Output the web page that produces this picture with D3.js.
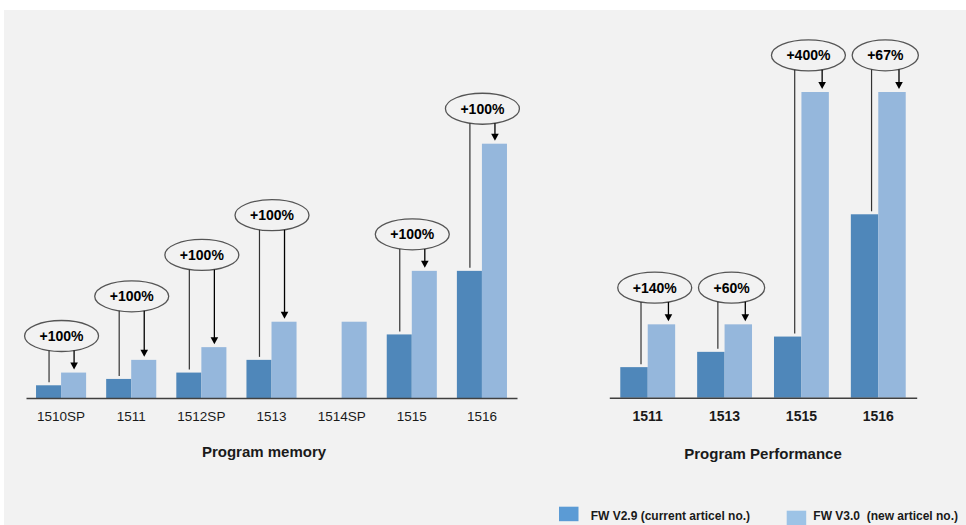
<!DOCTYPE html>
<html>
<head>
<meta charset="utf-8">
<style>
    body { margin: 0; background: #fff; }
    svg { display: block; font-family: "Liberation Sans", Arial, sans-serif; }
</style>
</head>
<body>
<svg id="chart" width="966" height="525"></svg>

<script src="https://d3js.org/d3.v7.min.js"></script>
<script>
    // program memory (left chart)
    const memCategories = ["1510SP", "1511", "1512SP", "1513", "1514SP", "1515", "1516"];
    const memV29 = [16, 24, 32, 48, null, 80, 160];
    const memV30 = [32, 48, 64, 96, 96, 160, 320];
    const memLabels = ["+100%", "+100%", "+100%", "+100%", null, "+100%", "+100%"];
    const memLabelLevel = [78, 128, 180, 230, null, 206, 364];

    // program performance (right chart)
    const perfCategories = ["1511", "1513", "1515", "1516"];
    const perfV29 = [5, 7.5, 10, 30];
    const perfV30 = [12, 12, 50, 50];
    const perfLabels = ["+140%", "+60%", "+400%", "+67%"];
    const perfLabelLevel = [18, 18, 56, 56];

    const seriesNames = ["FW V2.9 (current articel no.)", "FW V3.0\u00a0 (new articel no.)"];

    const darkBlue = "#4f87ba", lightBlue = "#95b7dc";

    const svg = d3.select("#chart");

    // grey panel
    svg.append("rect")
       .attr("x", 4).attr("y", 10)
       .attr("width", 962).attr("height", 515)
       .attr("fill", "#f2f2f2");

    function drawGroup(cfg) {
        const g = svg.append("g");

        const x0 = d3.scaleBand()
                     .domain(cfg.categories)
                     .range(cfg.xRange)
                     .paddingInner(0.286)
                     .paddingOuter(0.143);

        const x1 = d3.scaleBand()
                     .domain(["v29", "v30"])
                     .range([0, x0.bandwidth()]);

        const y = d3.scaleLinear()
                    .domain([0, cfg.max])
                    .range(cfg.yRange);

        const rows = cfg.categories.map((c, i) => ({
            cat: c, v29: cfg.v29[i], v30: cfg.v30[i],
            label: cfg.labels[i], level: cfg.levels[i]
        }));

        // bars
        rows.forEach(d => {
            ["v29", "v30"].forEach(k => {
                if (d[k] == null) return;
                g.append("rect")
                 .attr("x", x0(d.cat) + x1(k))
                 .attr("width", x1.bandwidth())
                 .attr("y", y(d[k]))
                 .attr("height", y(0) - y(d[k]))
                 .attr("fill", k === "v29" ? darkBlue : lightBlue);
            });
        });

        // x axis
        const axis = g.append("g")
                      .attr("transform", `translate(0,${y(0)})`)
                      .call(d3.axisBottom(x0).tickSize(0).tickSizeOuter(0).tickPadding(13));
        axis.select(".domain").attr("stroke", "#404040").attr("stroke-width", 1.5);
        axis.selectAll("text")
            .attr("fill", "#1a1a1a")
            .style("font-family", '"Liberation Sans", Arial, sans-serif')
            .style("font-size", cfg.tickSize + "px")
            .style("font-weight", cfg.tickWeight);

        // title
        g.append("text")
         .attr("x", cfg.titleX).attr("y", cfg.titleY)
         .attr("text-anchor", "middle")
         .attr("fill", "#1a1a1a")
         .style("font-size", "15px").style("font-weight", "bold")
         .text(cfg.title);

        // annotations
        rows.forEach(d => {
            if (!d.label) return;
            const cx = x0(d.cat) + x0.bandwidth() / 2 + cfg.shift;
            const cy = y(d.level);
            const dx = x0(d.cat) + x1("v29") + x1.bandwidth() / 2 + cfg.shift;
            const lx = x0(d.cat) + x1("v30") + x1.bandwidth() / 2 + cfg.shift;

            const ann = g.append("g");
            const ell = ann.append("ellipse")
                           .attr("cx", cx).attr("cy", cy)
                           .attr("fill", "#f2f2f2")
                           .attr("stroke", "#555")
                           .attr("stroke-width", 1.3);
            const txt = ann.append("text")
                           .attr("x", cx).attr("y", cy).attr("dy", "0.36em")
                           .attr("text-anchor", "middle")
                           .attr("fill", "#000")
                           .style("font-size", "14px").style("font-weight", "bold")
                           .text(d.label);
            const rx = txt.node().getComputedTextLength() / 2 + 15;
            const ry = 15.5;
            ell.attr("rx", rx).attr("ry", ry);

            const bottomAt = px => cy + ry * Math.sqrt(Math.max(0, 1 - Math.pow((px - cx) / rx, 2)));

            // line down to old bar
            if (d.v29 != null) {
                ann.append("line")
                   .attr("x1", dx).attr("x2", dx)
                   .attr("y1", bottomAt(dx)).attr("y2", y(d.v29) - 3)
                   .attr("stroke", "#333").attr("stroke-width", 1.2);
            }

            // arrow down to new bar
            const tip = y(d.v30) - 3;
            ann.append("line")
               .attr("x1", lx).attr("x2", lx)
               .attr("y1", bottomAt(lx)).attr("y2", tip - 6)
               .attr("stroke", "#000").attr("stroke-width", 1.3);
            ann.append("path")
               .attr("d", `M${lx - 3.8},${tip - 7}L${lx + 3.8},${tip - 7}L${lx},${tip}Z`)
               .attr("fill", "#000");
        });
    }

    drawGroup({
        categories: memCategories, v29: memV29, v30: memV30,
        labels: memLabels, levels: memLabelLevel,
        xRange: [26, 517], yRange: [398, 143.7], max: 320,
        tickSize: 13.5, tickWeight: "normal", shift: 0.5,
        title: "Program memory", titleX: 264, titleY: 457
    });

    drawGroup({
        categories: perfCategories, v29: perfV29, v30: perfV30,
        labels: perfLabels, levels: perfLabelLevel,
        xRange: [609.3, 916.7], yRange: [397.7, 92], max: 50,
        tickSize: 14, tickWeight: "bold", shift: 7,
        title: "Program Performance", titleX: 763, titleY: 459
    });

    // legend
    const legend = svg.append("g");
    const legendItems = [
        { name: seriesNames[0], color: "#5b9bd5", sx: 559, sy: 506.7, tx: 590.7 },
        { name: seriesNames[1], color: "#9dc3e6", sx: 786.7, sy: 510.7, tx: 813.3 }
    ];
    legendItems.forEach(d => {
        legend.append("rect")
              .attr("x", d.sx).attr("y", d.sy)
              .attr("width", 19.5).attr("height", 14.5)
              .attr("fill", d.color);
        legend.append("text")
              .attr("x", d.tx).attr("y", 519.5)
              .attr("fill", "#1a1a1a")
              .style("font-size", "12px").style("font-weight", "bold")
              .text(d.name);
    });
</script>
</body>
</html>
